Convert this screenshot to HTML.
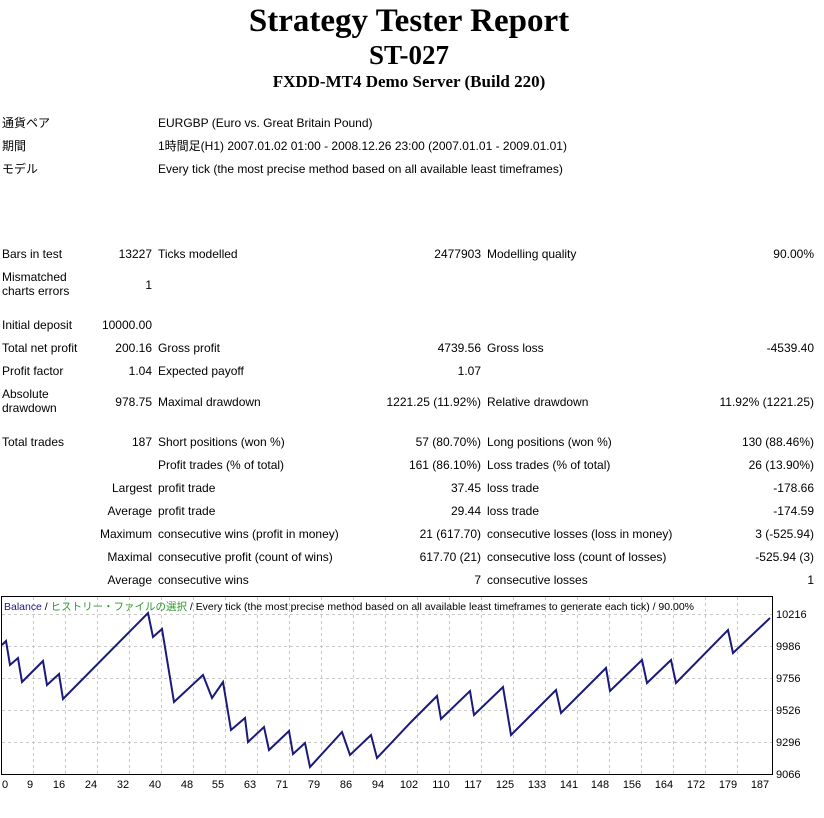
<!DOCTYPE html>
<html><head><meta charset="utf-8"><style>
body{margin:0;width:824px;height:818px;background:#fff;position:relative;overflow:hidden;font-family:"Liberation Sans","Noto Sans CJK JP",sans-serif;font-size:12px;color:#000}
.t{position:absolute;white-space:nowrap;line-height:14px}
.r{text-align:right}
.h{position:absolute;left:0;width:818px;text-align:center;font-family:"Liberation Serif",serif;font-weight:bold;white-space:nowrap}
</style></head><body>
<div class="h" style="top:2px;font-size:33px;line-height:38px">Strategy Tester Report</div>
<div class="h" style="top:40px;font-size:27px;line-height:30px">ST-027</div>
<div class="h" style="top:72px;font-size:17px;line-height:20px">FXDD-MT4 Demo Server (Build 220)</div>

<div class="t" style="left:2px;top:116px">通貨ペア</div><div class="t" style="left:158px;top:116px">EURGBP (Euro vs. Great Britain Pound)</div>
<div class="t" style="left:2px;top:139px">期間</div><div class="t" style="left:158px;top:139px">1時間足(H1) 2007.01.02 01:00 - 2008.12.26 23:00 (2007.01.01 - 2009.01.01)</div>
<div class="t" style="left:2px;top:162px">モデル</div><div class="t" style="left:158px;top:162px">Every tick (the most precise method based on all available least timeframes)</div>

<div class="t" style="left:2px;top:247px">Bars in test</div><div class="t r" style="right:672px;top:247px">13227</div>
<div class="t" style="left:158px;top:247px">Ticks modelled</div><div class="t r" style="right:343px;top:247px">2477903</div>
<div class="t" style="left:487px;top:247px">Modelling quality</div><div class="t r" style="right:10px;top:247px">90.00%</div>

<div class="t" style="left:2px;top:270px">Mismatched<br>charts errors</div><div class="t r" style="right:672px;top:278px">1</div>

<div class="t" style="left:2px;top:318px">Initial deposit</div><div class="t r" style="right:672px;top:318px">10000.00</div>

<div class="t" style="left:2px;top:341px">Total net profit</div><div class="t r" style="right:672px;top:341px">200.16</div>
<div class="t" style="left:158px;top:341px">Gross profit</div><div class="t r" style="right:343px;top:341px">4739.56</div>
<div class="t" style="left:487px;top:341px">Gross loss</div><div class="t r" style="right:10px;top:341px">-4539.40</div>

<div class="t" style="left:2px;top:364px">Profit factor</div><div class="t r" style="right:672px;top:364px">1.04</div>
<div class="t" style="left:158px;top:364px">Expected payoff</div><div class="t r" style="right:343px;top:364px">1.07</div>

<div class="t" style="left:2px;top:387px">Absolute<br>drawdown</div><div class="t r" style="right:672px;top:395px">978.75</div>
<div class="t" style="left:158px;top:395px">Maximal drawdown</div><div class="t r" style="right:343px;top:395px">1221.25 (11.92%)</div>
<div class="t" style="left:487px;top:395px">Relative drawdown</div><div class="t r" style="right:10px;top:395px">11.92% (1221.25)</div>

<div class="t" style="left:2px;top:435px">Total trades</div><div class="t r" style="right:672px;top:435px">187</div>
<div class="t" style="left:158px;top:435px">Short positions (won %)</div><div class="t r" style="right:343px;top:435px">57 (80.70%)</div>
<div class="t" style="left:487px;top:435px">Long positions (won %)</div><div class="t r" style="right:10px;top:435px">130 (88.46%)</div>

<div class="t" style="left:158px;top:458px">Profit trades (% of total)</div><div class="t r" style="right:343px;top:458px">161 (86.10%)</div>
<div class="t" style="left:487px;top:458px">Loss trades (% of total)</div><div class="t r" style="right:10px;top:458px">26 (13.90%)</div>

<div class="t r" style="right:672px;top:481px">Largest</div>
<div class="t" style="left:158px;top:481px">profit trade</div><div class="t r" style="right:343px;top:481px">37.45</div>
<div class="t" style="left:487px;top:481px">loss trade</div><div class="t r" style="right:10px;top:481px">-178.66</div>

<div class="t r" style="right:672px;top:504px">Average</div>
<div class="t" style="left:158px;top:504px">profit trade</div><div class="t r" style="right:343px;top:504px">29.44</div>
<div class="t" style="left:487px;top:504px">loss trade</div><div class="t r" style="right:10px;top:504px">-174.59</div>

<div class="t r" style="right:672px;top:527px">Maximum</div>
<div class="t" style="left:158px;top:527px">consecutive wins (profit in money)</div><div class="t r" style="right:343px;top:527px">21 (617.70)</div>
<div class="t" style="left:487px;top:527px">consecutive losses (loss in money)</div><div class="t r" style="right:10px;top:527px">3 (-525.94)</div>

<div class="t r" style="right:672px;top:550px">Maximal</div>
<div class="t" style="left:158px;top:550px">consecutive profit (count of wins)</div><div class="t r" style="right:343px;top:550px">617.70 (21)</div>
<div class="t" style="left:487px;top:550px">consecutive loss (count of losses)</div><div class="t r" style="right:10px;top:550px">-525.94 (3)</div>

<div class="t r" style="right:672px;top:573px">Average</div>
<div class="t" style="left:158px;top:573px">consecutive wins</div><div class="t r" style="right:343px;top:573px">7</div>
<div class="t" style="left:487px;top:573px">consecutive losses</div><div class="t r" style="right:10px;top:573px">1</div>

<svg style="position:absolute;left:0;top:0" width="824" height="818">
<g stroke="#c8c8c8" stroke-dasharray="3,3" stroke-width="1">
<line x1="2" y1="614.5" x2="772" y2="614.5"/><line x1="2" y1="646.5" x2="772" y2="646.5"/><line x1="2" y1="678.5" x2="772" y2="678.5"/><line x1="2" y1="710.5" x2="772" y2="710.5"/><line x1="2" y1="742.5" x2="772" y2="742.5"/>
<line x1="33.5" y1="597" x2="33.5" y2="775"/><line x1="65.5" y1="597" x2="65.5" y2="775"/><line x1="97.5" y1="597" x2="97.5" y2="775"/><line x1="129.5" y1="597" x2="129.5" y2="775"/><line x1="161.5" y1="597" x2="161.5" y2="775"/><line x1="193.5" y1="597" x2="193.5" y2="775"/><line x1="225.5" y1="597" x2="225.5" y2="775"/><line x1="257.5" y1="597" x2="257.5" y2="775"/><line x1="289.5" y1="597" x2="289.5" y2="775"/><line x1="321.5" y1="597" x2="321.5" y2="775"/><line x1="353.5" y1="597" x2="353.5" y2="775"/><line x1="385.5" y1="597" x2="385.5" y2="775"/><line x1="417.5" y1="597" x2="417.5" y2="775"/><line x1="449.5" y1="597" x2="449.5" y2="775"/><line x1="481.5" y1="597" x2="481.5" y2="775"/><line x1="513.5" y1="597" x2="513.5" y2="775"/><line x1="545.5" y1="597" x2="545.5" y2="775"/><line x1="577.5" y1="597" x2="577.5" y2="775"/><line x1="609.5" y1="597" x2="609.5" y2="775"/><line x1="641.5" y1="597" x2="641.5" y2="775"/><line x1="673.5" y1="597" x2="673.5" y2="775"/><line x1="705.5" y1="597" x2="705.5" y2="775"/><line x1="737.5" y1="597" x2="737.5" y2="775"/>
</g>
<rect x="1.5" y="596.5" width="771" height="178" fill="none" stroke="#000"/>
<polyline fill="none" stroke="#1a1a7a" stroke-width="2" points="2,645 6,641 10,665 18,658 22,682 43,661 47,685 59,674 63,699 148,613 153,637 162,629 174,702 203,675 212,698 223,682 231,730 245,718 248,742 264,727 269,750 289,731 293,754 305,743 310,767 342,732 350,755 371,735 377,758 412,721 437,696 441,719 470,691 474,715 503,687 511,735 556,690 561,713 606,668 610,691 642,660 647,683 671,660 676,683 728,630 733,653 770,618"/>
<text x="4" y="610" font-family="Liberation Sans,Noto Sans CJK JP,sans-serif" font-size="10.5" textLength="690" lengthAdjust="spacingAndGlyphs"><tspan fill="#1a1a7a">Balance</tspan> / <tspan fill="#2a9a2a">ヒストリー・ファイルの選択</tspan> / Every tick (the most precise method based on all available least timeframes to generate each tick) / 90.00%</text>
<g font-family="Liberation Sans,sans-serif" font-size="11" fill="#000">
<text x="776" y="618">10216</text><text x="776" y="650">9986</text><text x="776" y="682">9756</text><text x="776" y="714">9526</text><text x="776" y="746">9296</text><text x="776" y="778">9066</text>
</g>
<g font-family="Liberation Sans,sans-serif" font-size="11" fill="#000" text-anchor="middle">
<text x="5" y="788">0</text><text x="30" y="788">9</text><text x="59" y="788">16</text><text x="91" y="788">24</text><text x="123" y="788">32</text><text x="155" y="788">40</text><text x="187" y="788">48</text><text x="218" y="788">55</text><text x="250" y="788">63</text><text x="282" y="788">71</text><text x="314" y="788">79</text><text x="346" y="788">86</text><text x="378" y="788">94</text><text x="409" y="788">102</text><text x="441" y="788">110</text><text x="473" y="788">117</text><text x="505" y="788">125</text><text x="537" y="788">133</text><text x="569" y="788">141</text><text x="600" y="788">148</text><text x="632" y="788">156</text><text x="664" y="788">164</text><text x="696" y="788">172</text><text x="728" y="788">179</text><text x="760" y="788">187</text>
</g>
</svg>
</body></html>
